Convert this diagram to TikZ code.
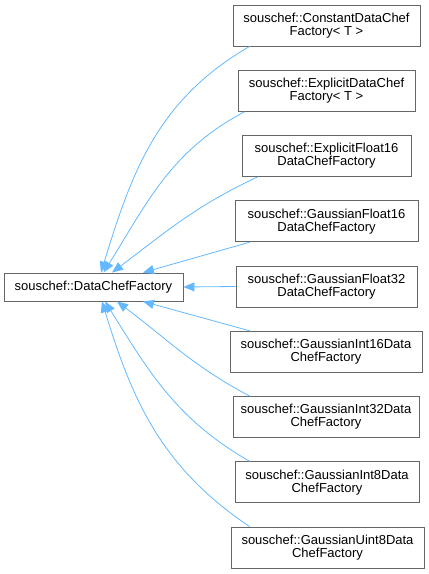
\documentclass[tikz,border=0pt]{standalone}
\usepackage{fontspec}
\setmainfont{Liberation Sans}
\usepackage{tikz}
\usetikzlibrary{arrows.meta}
\definecolor{EdgeBlue}{HTML}{63B8FF}
\definecolor{BoxGray}{HTML}{666666}

\begin{document}
\begin{tikzpicture}[
    x=1pt, y=-1pt,
    every node/.style={font=\fontsize{13}{13}\selectfont},
    classbox/.style={draw=BoxGray, fill=white, line width=0.9pt, align=center, inner sep=0pt, minimum height=41pt},
    basebox/.style={draw=BoxGray, fill=white, line width=0.9pt, align=center, inner sep=0pt, minimum height=28pt, minimum width=179pt},
    inherit/.style={EdgeBlue, line width=0.8pt, -{Triangle[length=11pt,width=9pt]}}
]
\useasboundingbox (0,0) rectangle (429,574);
\node[basebox] (base) at (93.5,287) {souschef::DataChefFactory};

\node[classbox, minimum width=187pt] (cconst) at (326.5,25.5) {souschef::ConstantDataChef\\Factory< T >};
\node[classbox, minimum width=177pt] (cexpl) at (326.5,90.75) {souschef::ExplicitDataChef\\Factory< T >};
\node[classbox, minimum width=169pt] (cexplf) at (326.5,156) {souschef::ExplicitFloat16\\DataChefFactory};
\node[classbox, minimum width=183pt] (cgf16) at (326.5,221.25) {souschef::GaussianFloat16\\DataChefFactory};
\node[classbox, minimum width=181pt] (cgf32) at (326.5,286.5) {souschef::GaussianFloat32\\DataChefFactory};
\node[classbox, minimum width=192pt] (cgi16) at (326,351.75) {souschef::GaussianInt16Data\\ChefFactory};
\node[classbox, minimum width=186pt] (cgi32) at (326,417) {souschef::GaussianInt32Data\\ChefFactory};
\node[classbox, minimum width=184pt] (cgi8) at (327,482.25) {souschef::GaussianInt8Data\\ChefFactory};
\node[classbox, minimum width=193pt] (cgu8) at (327.5,547.5) {souschef::GaussianUint8Data\\ChefFactory};

% edges above the base class
\draw[inherit] ([xshift=17pt]cconst.south west) to[out=210, in=73] ([xshift=7.5pt]base.north);
\draw[inherit] ([xshift=7pt]cexpl.south west) to[out=208, in=58] ([xshift=10pt]base.north);
\draw[inherit] ([xshift=16pt]cexplf.south west) to[out=205, in=37] ([xshift=18.5pt]base.north);
\draw[inherit] ([xshift=15pt]cgf16.south west) -- ([xshift=49.5pt]base.north);
\draw[inherit] (cgf32.west) -- (base.east);
% edges below the base class
\draw[inherit] ([xshift=20pt]cgi16.north west) -- ([xshift=49.5pt]base.south);
\draw[inherit] ([xshift=17pt]cgi32.north west) to[out=152, in=-37] ([xshift=23.5pt]base.south);
\draw[inherit] ([xshift=15pt]cgi8.north west) to[out=150, in=-58] ([xshift=11.5pt]base.south);
\draw[inherit] ([xshift=19pt]cgu8.north west) to[out=146, in=-73] ([xshift=8.5pt]base.south);
\end{tikzpicture}
\end{document}
